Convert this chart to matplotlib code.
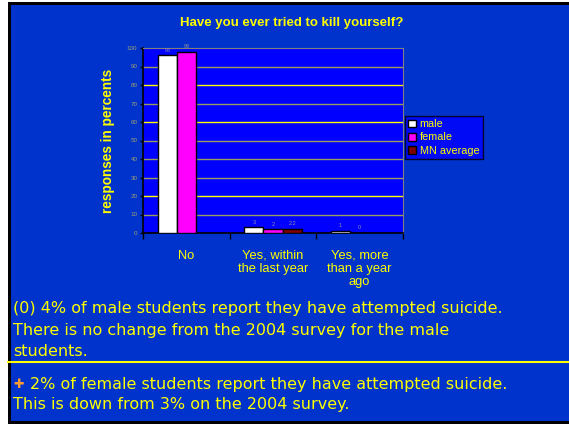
import numpy as np
import matplotlib.pyplot as plt
from matplotlib.patches import Rectangle

categories = ["No", "Yes, within\nthe last year", "Yes, more\nthan a year\nago"]
male = [96, 3, 1]
female = [98, 2, 0]
mn_average = [None, 2.2, None]
series_names = ["male", "female", "MN average"]
y_ticks = list(range(0, 101, 10))

title = "Have you ever tried to kill yourself?"
ylabel = "responses in percents"
note1 = ["(0) 4% of male students report they have attempted suicide.",
         "There is no change from the 2004 survey for the male",
         "students."]
note2 = ["2% of female students report they have attempted suicide.",
         "This is down from 3% on the 2004 survey."]

W, H = 569, 424
bg_blue = "#0033cc"
plot_blue = "#0000ff"
yellow = "#ffff00"
tick_col = "#a0a070"
val_col = "#9090a8"

fig = plt.figure(figsize=(W / 100, H / 100), dpi=100, facecolor=bg_blue)
plt.rcParams['font.family'] = ['Liberation Sans', 'DejaVu Sans']

# slide frame: white strip on the left, black edges left/top/bottom
def frame(x0, y0, x1, y1, c):
    fig.patches.append(Rectangle((x0 / W, 1 - y1 / H), (x1 - x0) / W, (y1 - y0) / H,
                                 transform=fig.transFigure, facecolor=c,
                                 edgecolor="none", zorder=-2))

frame(0, 0, 8, H, "white")
frame(8, 0, W, 2, "white")
frame(8, 2, 11, H, "black")
frame(8, 2, W, 5, "black")
frame(8, 421, W, H, "black")

def px(x0, y0, x1, y1):
    return [x0 / W, 1 - y1 / H, (x1 - x0) / W, (y1 - y0) / H]

ax = fig.add_axes(px(143, 48, 403, 233))
ax.set_facecolor(plot_blue)

x = np.arange(len(categories))
bw = 0.22
colors = ["white", "#ff00ff", "#800000"]
for i, (vals, c) in enumerate(zip([male, female, mn_average], colors)):
    pos = x + (i - 1) * bw
    for p, v in zip(pos, vals):
        if v is None:
            continue
        ax.bar(p, v, width=bw, color=c, edgecolor="black", linewidth=1, zorder=3)
        ax.text(p, v + 1.5, f"{v:g}", ha="center", va="bottom", fontsize=4, color=val_col, zorder=4)
    # legend proxies
    ax.bar(0, 0, width=0, color=c, edgecolor="black", label=series_names[i])

ax.set_xlim(-0.5, len(categories) - 0.5)
ax.set_ylim(0, 100)
ax.set_yticks(y_ticks)
ax.set_yticklabels([str(t) for t in y_ticks], fontsize=4.5, color=tick_col)
ax.tick_params(axis="y", length=2, width=1, color="black", pad=2)

grid_cols = {20: yellow, 60: yellow, 80: yellow}
for t in y_ticks[1:-1]:
    ax.axhline(t, color=grid_cols.get(t, "#9c9c5c"), linewidth=1, zorder=1)

ax.set_xticks(x)
ax.set_xticklabels(categories, fontsize=9.3, color=yellow, linespacing=1.15)
ax.tick_params(axis="x", length=0, pad=12)
ax.set_xticks(np.arange(len(categories) + 1) - 0.5, minor=True)
ax.tick_params(axis="x", which="minor", length=4, width=1, color="black")

for s in ["top", "right"]:
    ax.spines[s].set_color("#808080")
for s in ["left", "bottom"]:
    ax.spines[s].set_color("black")
    ax.spines[s].set_linewidth(1.2)

ax.set_ylabel(ylabel, fontsize=9.8, fontweight="bold", color=yellow)
ax.yaxis.set_label_coords((115 - 143) / 260, (233 - 141) / 185)

leg = ax.legend(loc="upper left", bbox_to_anchor=((405 - 143) / 260, (233 - 116) / 185),
                fontsize=7.8, frameon=True, fancybox=False, facecolor=plot_blue,
                edgecolor="black", handlelength=0.7, handleheight=0.7, handletextpad=0.35,
                borderpad=0.3, labelspacing=0.3, borderaxespad=0)
for t in leg.get_texts():
    t.set_color(yellow)
leg.get_frame().set_linewidth(1)

fig.text(292 / W, 1 - 23 / H, title, ha="center", va="center", fontsize=9.5,
         fontweight="bold", color=yellow)

# notes
for k, line in enumerate(note1):
    fig.text(13 / W, 1 - (308 + k * 22) / H, line, ha="left", va="center",
             fontsize=11.5, color=yellow, family=["DejaVu Sans"])
fig.add_artist(plt.Line2D([8 / W, 1], [1 - 362 / H, 1 - 362 / H], color=yellow, linewidth=1.5))
fig.text(13 / W, 1 - 384 / H, "\u271a", ha="left", va="center", fontsize=9,
         color="#ff9933", family=["DejaVu Sans"])
fig.text(30 / W, 1 - 385 / H, note2[0], ha="left", va="center",
         fontsize=11.5, color=yellow, family=["DejaVu Sans"])
fig.text(13 / W, 1 - 405 / H, note2[1], ha="left", va="center",
         fontsize=11.5, color=yellow, family=["DejaVu Sans"])

fig.savefig("out.png", dpi=100, facecolor=bg_blue)
